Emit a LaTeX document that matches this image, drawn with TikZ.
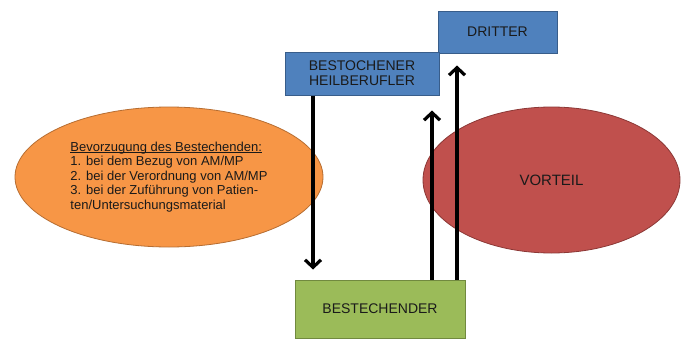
\documentclass[tikz,border=0pt]{standalone}
\usepackage{fontspec}
\setmainfont{Liberation Sans}
\usetikzlibrary{arrows.meta,shapes.geometric}
\definecolor{bluefill}{HTML}{4F81BD}
\definecolor{blueline}{HTML}{385D8A}
\definecolor{greenfill}{HTML}{9BBB59}
\definecolor{greenline}{HTML}{71893F}
\definecolor{orangefill}{HTML}{F79646}
\definecolor{orangeline}{HTML}{B66D31}
\definecolor{redfill}{HTML}{C0504D}
\definecolor{redline}{HTML}{8C3836}
\definecolor{txt}{HTML}{1A1A1A}
\newcommand\myul[1]{\setbox0\hbox{#1}\rlap{\rule[-1.6pt]{\wd0}{0.7pt}}\box0}
\begin{document}
\begin{tikzpicture}[x=1pt,y=-1pt,
  boxnode/.style={rectangle, line width=1pt, inner sep=0pt, align=center, text=txt,
    font=\fontsize{14}{15}\selectfont},
  ellnode/.style={ellipse, line width=0.8pt, inner sep=0pt, text=txt},
  arr/.style={line width=3.2pt, -{Straight Barb[length=7.5pt,width=16pt]}}]
\useasboundingbox (0,0) rectangle (686,340);
\fill[white] (0,0) rectangle (686,340);
% ellipses
\node[ellnode, fill=orangefill, draw=orangeline, minimum width=308pt, minimum height=140pt,
  align=left, font=\fontsize{13}{14.6}\selectfont] (bev) at (169,177)
  {\myul{Bevorzugung des Bestechenden:}\\
   1. bei dem Bezug von AM/MP\\
   2. bei der Verordnung von AM/MP\\
   3. bei der Zuführung von Patien-\\
   ten/Untersuchungsmaterial};
\node[ellnode, fill=redfill, draw=redline, minimum width=257pt, minimum height=146pt,
  font=\fontsize{15}{16}\selectfont] (vor) at (551.5,180) {VORTEIL};
% boxes
\node[boxnode, fill=bluefill, draw=blueline, minimum width=119pt, minimum height=42pt]
  (dr) at (497.5,32) {DRITTER};
\node[boxnode, fill=bluefill, draw=blueline, minimum width=154pt, minimum height=43pt]
  (hb) at (362,73.5) {BESTOCHENER\\HEILBERUFLER};
\node[boxnode, fill=greenfill, draw=greenline, minimum width=170pt, minimum height=58pt]
  (be) at (380,309) {BESTECHENDER};
% arrow columns
\coordinate (xa) at (313,0);
\coordinate (xb) at (432,0);
\coordinate (xc) at (457,0);
\draw[arr, shorten >=10pt] (hb.south -| xa) -- (be.north -| xa);
\draw[arr, shorten >=15pt] (be.north -| xb) -- (hb.south -| xb);
\draw[arr, shorten >=12pt] (be.north -| xc) -- (dr.south -| xc);
\end{tikzpicture}
\end{document}
